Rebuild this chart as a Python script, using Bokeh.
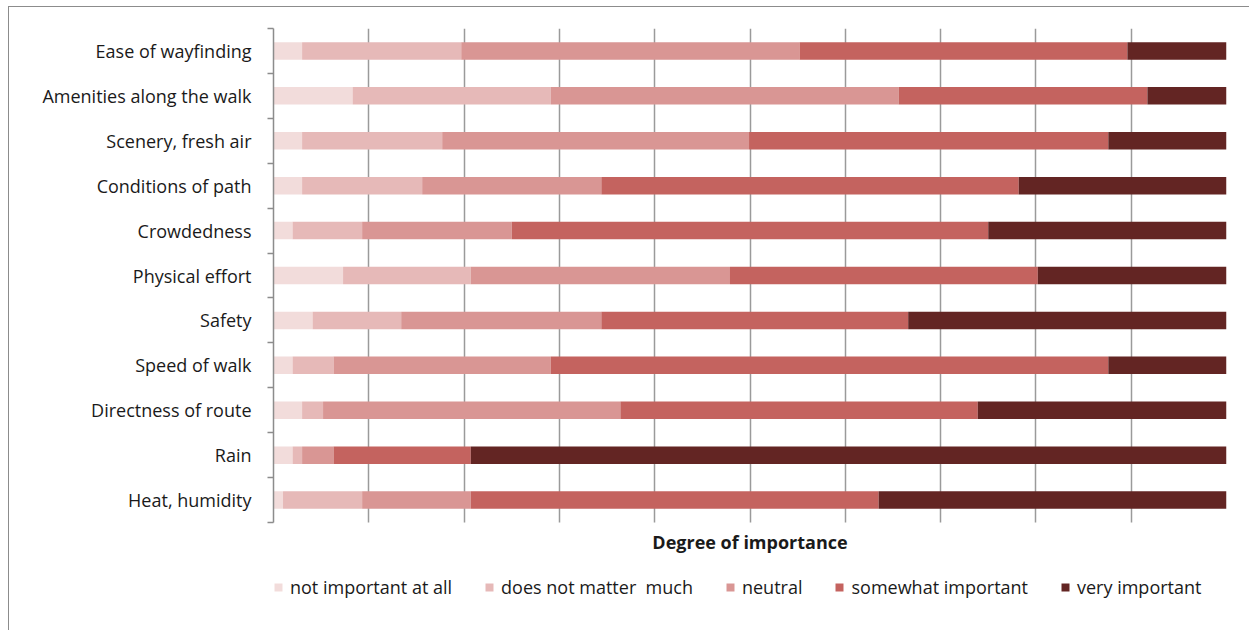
from bokeh.plotting import figure
from bokeh.models import (ColumnDataSource, FixedTicker, Legend, LegendItem, Label,
                          InlineStyleSheet)
from bokeh.embed import file_html
from bokeh.resources import INLINE

# Walking factors, listed top to bottom
factors = ["Ease of wayfinding", "Amenities along the walk", "Scenery, fresh air",
           "Conditions of path", "Crowdedness", "Physical effort", "Safety",
           "Speed of walk", "Directness of route", "Rain", "Heat, humidity"]

# Share of respondents (%) per rating, same order as factors
not_important_at_all = [3.0, 8.3, 3.0, 3.0, 2.0, 7.3, 4.1, 2.0, 3.0, 2.0, 1.0]
does_not_matter_much = [16.7, 20.8, 14.7, 12.6, 7.3, 13.4, 9.3, 4.3, 2.2, 1.0, 8.3]
neutral = [35.5, 36.5, 32.2, 18.8, 15.7, 27.2, 21.0, 22.8, 31.2, 3.3, 11.4]
somewhat_important = [34.4, 26.1, 37.7, 43.8, 50.0, 32.3, 32.2, 58.5, 37.5, 14.4, 42.8]
very_important = [10.4, 8.3, 12.4, 21.8, 25.0, 19.8, 33.4, 12.4, 26.1, 79.3, 36.5]

ratings = ["not important at all", "does not matter  much", "neutral",
           "somewhat important", "very important"]
colors = ["#F2DCDB", "#E6B9B8", "#D99694", "#C4635F", "#632523"]

n = len(factors)
ypos = [n - 1 - i + 0.5 for i in range(n)]

source = ColumnDataSource(dict(
    y=ypos,
    r0=not_important_at_all,
    r1=does_not_matter_much,
    r2=neutral,
    r3=somewhat_important,
    r4=very_important,
))

FONT = "Open Sans"
TEXT = "#1A1A1A"

# plot frame spans the bars plus the area for the axis title and legend below
TOP, BOTTOM, BAR_AREA = 28, 625, 494
y_start = -(BOTTOM - TOP - BAR_AREA) * n / BAR_AREA

# thin chart-area frame (top and left edges), drawn without affecting layout
frame_css = InlineStyleSheet(css="""
:host::before {
  content: "";
  position: absolute;
  left: 8px; top: 6px;
  width: 1240px; height: 623px;
  border-left: 1px solid #8C8C8C;
  border-top: 1px solid #8C8C8C;
  pointer-events: none;
  z-index: 10;
}
""")

p = figure(width=1249, height=630, output_backend="svg", toolbar_location=None,
           x_range=(0, 100), y_range=(y_start, n),
           min_border_left=273, min_border_right=23,
           min_border_top=TOP, min_border_bottom=630 - BOTTOM,
           stylesheets=[frame_css])
p.outline_line_color = None
p.background_fill_color = "white"
p.border_fill_color = "white"

renderers = p.hbar_stack(["r0", "r1", "r2", "r3", "r4"], y="y", height=0.39,
                         color=colors, line_color=None, source=source)

# vertical gridlines every 10 %, only across the bars
p.xgrid.ticker = FixedTicker(ticks=list(range(0, 101, 10)))
p.xgrid.cross_bounds = (0, n)
p.xgrid.grid_line_color = "#9A9A9A"
p.xgrid.grid_line_width = 1.5
p.ygrid.grid_line_color = None

p.xaxis.visible = False

# y axis: names at bar centres, tick marks between bars
ya = p.yaxis[0]
ya.bounds = (0, n)
ya.ticker = FixedTicker(ticks=ypos, minor_ticks=list(range(0, n + 1)))
ya.major_label_overrides = {y: name for y, name in zip(ypos, factors)}
ya.major_tick_line_color = None
ya.minor_tick_line_color = "#8C8C8C"
ya.minor_tick_line_width = 1.5
ya.minor_tick_out = 6
ya.minor_tick_in = 0
ya.axis_line_color = "#8C8C8C"
ya.axis_line_width = 1.5
ya.major_label_standoff = 16
ya.major_label_text_font = FONT
ya.major_label_text_font_size = "18px"
ya.major_label_text_color = TEXT

# horizontal axis title
p.add_layout(Label(x=50, y=-19 * n / BAR_AREA, text="Degree of importance",
                   text_align="center", text_baseline="middle",
                   text_font=FONT, text_font_size="18px", text_font_style="bold",
                   text_color=TEXT))

legend = Legend(
    items=[LegendItem(label=lab, renderers=[r]) for lab, r in zip(ratings, renderers)],
    orientation="horizontal", location=(0, 26),
    glyph_width=10, glyph_height=10, label_standoff=7, spacing=32,
    padding=0, margin=0, border_line_color=None, background_fill_alpha=0,
    label_text_font=FONT, label_text_font_size="18px", label_text_color=TEXT,
)
p.add_layout(legend)

open("out.html", "w").write(file_html(p, INLINE))
